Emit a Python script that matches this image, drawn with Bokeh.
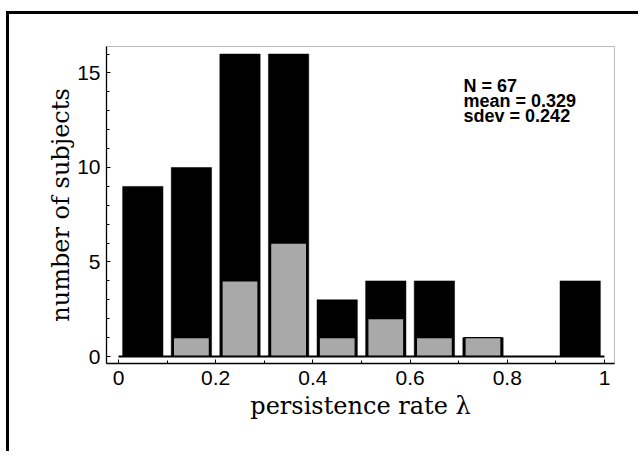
from bokeh.plotting import figure
from bokeh.models import FixedTicker, Label, Range1d
from bokeh.embed import file_html
from bokeh.resources import INLINE

# ---- data ----
bin_left = [0.0, 0.1, 0.2, 0.3, 0.4, 0.5, 0.6, 0.7, 0.8, 0.9]
bin_width = 0.1
total_counts = [9, 10, 16, 16, 3, 4, 4, 1, 0, 4]
gray_counts = [0, 1, 4, 6, 1, 2, 1, 1, 0, 0]
x_ticks = [0.0, 0.2, 0.4, 0.6, 0.8, 1.0]
x_tick_labels = ["0", "0.2", "0.4", "0.6", "0.8", "1"]
x_minor = [0.0, 0.1, 0.2, 0.3, 0.4, 0.5, 0.6, 0.7, 0.8, 0.9, 1.0]
y_ticks = [0, 5, 10, 15]
y_minor = list(range(0, 17))
stats_lines = ["N = 67", "mean = 0.329", "sdev = 0.242"]
x_label = "persistence rate \u03bb"
y_label = "number of subjects"

p = figure(width=632, height=440, output_backend="svg", toolbar_location=None,
           x_range=Range1d(-0.0247, 1.0206), y_range=Range1d(-0.37, 16.4),
           min_border_left=97, min_border_right=27, min_border_top=32,
           min_border_bottom=91)
p.styles = {"margin-left": "6px", "margin-top": "11px",
            "border-left": "3px solid black", "border-top": "3px solid black"}

p.xgrid.visible = False
p.ygrid.visible = False
p.outline_line_color = "#bbbbbb"
p.outline_line_width = 1
p.background_fill_color = "white"
p.border_fill_color = "white"

# black (total) bars
pad_black = 0.0085
p.quad(left=[b + pad_black for b in bin_left],
       right=[b + bin_width - pad_black for b in bin_left],
       bottom=0, top=total_counts,
       fill_color="black", line_color="black", line_width=0.5)

# gray bars (inset), only non-zero
pad_gray = 0.013
gl = [b + pad_gray for b, g in zip(bin_left, gray_counts) if g > 0]
gr = [b + bin_width - pad_gray for b, g in zip(bin_left, gray_counts) if g > 0]
gt = [g for g in gray_counts if g > 0]
p.quad(left=gl, right=gr, bottom=0, top=gt,
       fill_color="#a9a9a9", line_color="black", line_width=1.2)

# baseline
p.line(x=[bin_left[0], bin_left[-1] + bin_width], y=[0, 0],
       line_color="black", line_width=2)

# stats text
for i, t in enumerate(stats_lines):
    p.add_layout(Label(x=0.71, y=14.29 - 0.79 * i, text=t,
                       text_font="Liberation Sans", text_font_style="bold",
                       text_font_size="18px", text_color="black",
                       text_baseline="alphabetic"))

# axes
xa = p.xaxis[0]
xa.ticker = FixedTicker(ticks=x_ticks, minor_ticks=x_minor)
xa.major_label_overrides = {t: l for t, l in zip(x_ticks, x_tick_labels)}
xa.axis_label = x_label
ya = p.yaxis[0]
ya.ticker = FixedTicker(ticks=y_ticks, minor_ticks=y_minor)
ya.axis_label = y_label

for ax in (xa, ya):
    ax.axis_line_color = "black"
    ax.axis_line_width = 1.3
    ax.major_tick_in = 4
    ax.major_tick_out = 0
    ax.minor_tick_in = 3
    ax.minor_tick_out = 0
    ax.major_tick_line_color = "black"
    ax.minor_tick_line_color = "black"
    ax.major_label_text_font = "Liberation Sans"
    ax.major_label_text_color = "black"
    ax.axis_label_text_font = "DejaVu Serif"
    ax.axis_label_text_font_style = "normal"
    ax.axis_label_text_font_size = "24px"
    ax.axis_label_text_color = "black"

xa.major_label_text_font_size = "21px"
xa.major_label_standoff = 7
xa.axis_label_standoff = 4
ya.major_label_text_font_size = "21px"
ya.major_label_standoff = 6
ya.axis_label_standoff = -1

open("out.html", "w").write(file_html(p, INLINE))
